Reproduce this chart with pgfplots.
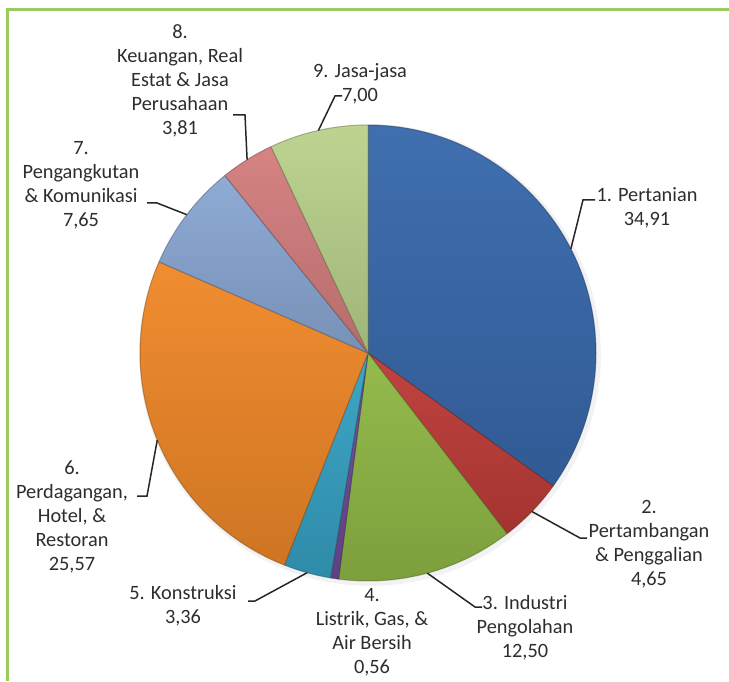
\documentclass[border=0pt]{standalone}
\usepackage{pgfplots}
\pgfplotsset{compat=1.18}
\usepackage{pgfplotstable}
\usepackage{fontspec}
\setmainfont{Carlito}

% slice colours, clockwise from the top
\definecolor{c0}{RGB}{56,105,172}
\definecolor{c1}{RGB}{190,60,56}
\definecolor{c2}{RGB}{144,184,70}
\definecolor{c3}{RGB}{110,76,150}
\definecolor{c4}{RGB}{54,162,196}
\definecolor{c5}{RGB}{240,136,40}
\definecolor{c6}{RGB}{138,168,212}
\definecolor{c7}{RGB}{212,126,126}
\definecolor{c8}{RGB}{186,210,140}
\definecolor{frame}{RGB}{155,203,95}
\definecolor{txt}{RGB}{45,45,45}

\pgfplotstableread{
v
34.91
4.65
12.50
0.56
3.36
25.57
7.65
3.81
7.00
}\pietable

% leader: slice, bend x, bend y, end x, end y (picture px, y up)
\newcommand\leader[5]{%
  \draw[black!85,line width=0.9pt]
    (axis cs:{368+228*cos(\csname ma#1\endcsname)},{328+228*sin(\csname ma#1\endcsname)})
    -- (axis cs:#2,#3) -- (axis cs:#4,#5);}

\begin{document}
\begin{tikzpicture}[
  lbl/.style={text=txt, align=center, inner sep=0pt,
    font=\fontsize{12.2}{14.4}\selectfont},
]
% start, end and mid angle of each slice
\xdef\cum{0}
\foreach \i in {0,...,8}{%
  \pgfplotstablegetelem{\i}{v}\of\pietable
  \let\val\pgfplotsretval
  \pgfmathsetmacro\sa{90-3.6*\cum}
  \pgfmathsetmacro\newcum{\cum+\val}
  \pgfmathsetmacro\ea{90-3.6*\newcum}
  \pgfmathsetmacro\ma{(\sa+\ea)/2}
  \expandafter\xdef\csname sa\i\endcsname{\sa}
  \expandafter\xdef\csname ea\i\endcsname{\ea}
  \expandafter\xdef\csname ma\i\endcsname{\ma}
  \xdef\cum{\newcum}
}
\begin{axis}[
  hide axis, clip=false,
  x=0.6pt, y=0.6pt,
  xmin=0, xmax=729, ymin=0, ymax=681,
]
% frame
\draw[frame, line width=1.8pt] (axis cs:7,0) -- (axis cs:7,671) -- (axis cs:729,671);

% soft shadow
\fill[black, opacity=0.05] (axis cs:370,326) circle[radius=138.5pt];

\pgfplotsinvokeforeach{0,...,8}{
  \shade[top color=c#1!96!white, bottom color=c#1!86!black]
    (axis cs:368,328)
    -- (axis cs:{368+228*cos(\csname sa#1\endcsname)},{328+228*sin(\csname sa#1\endcsname)})
    arc[start angle=\csname sa#1\endcsname, end angle=\csname ea#1\endcsname, radius=136.8pt]
    -- cycle;
  \draw[c#1!55!black, opacity=0.5, line width=0.6pt, line join=round]
    (axis cs:368,328)
    -- (axis cs:{368+228*cos(\csname sa#1\endcsname)},{328+228*sin(\csname sa#1\endcsname)})
    arc[start angle=\csname sa#1\endcsname, end angle=\csname ea#1\endcsname, radius=136.8pt]
    -- cycle;
}

% leader lines
\leader{0}{583}{481}{595}{481}
\leader{1}{580}{143}{587}{143}
\leader{2}{475}{74}{482}{74}
\leader{4}{255}{80}{248}{80}
\leader{5}{147}{185}{137}{185}
\leader{6}{157}{478}{147}{478}
\leader{7}{245}{566}{233}{566}
\leader{8}{335}{585}{342}{585}

% labels
\node[lbl] at (axis cs:647,473.5) {1. Pertanian\\34,91};
\node[lbl] at (axis cs:649,136.5) {2.\\Pertambangan\\\& Penggalian\\4,65};
\node[lbl] at (axis cs:525,53) {3. Industri\\Pengolahan\\12,50};
\node[lbl] at (axis cs:372,49) {4.\\Listrik, Gas, \&\\Air Bersih\\0,56};
\node[lbl] at (axis cs:183,75.5) {5. Konstruksi\\3,36};
\node[lbl] at (axis cs:72,164) {6.\\Perdagangan,\\Hotel, \&\\Restoran\\25,57};
\node[lbl] at (axis cs:81,496) {7.\\Pengangkutan\\\& Komunikasi\\7,65};
\node[lbl] at (axis cs:180,600.4) {8.\\Keuangan, Real\\Estat \& Jasa\\Perusahaan\\3,81};
\node[lbl] at (axis cs:360,597.5) {9. Jasa-jasa\\7,00};
\end{axis}
\pgfresetboundingbox
\path (current axis.south west) rectangle (current axis.north east);
\end{tikzpicture}
\end{document}
